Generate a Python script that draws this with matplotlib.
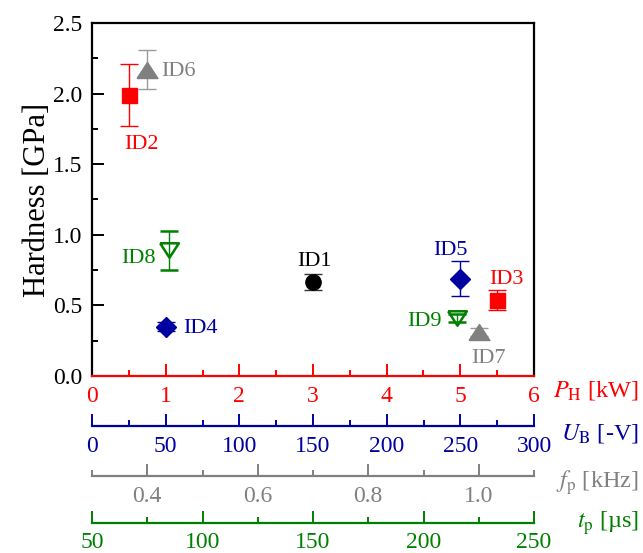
import matplotlib
matplotlib.use("Agg")
import matplotlib.pyplot as plt
from matplotlib.ticker import MultipleLocator, FixedLocator, FormatStrFormatter

plt.rcParams['font.family'] = ['Liberation Serif', 'DejaVu Serif']
plt.rcParams['mathtext.fontset'] = 'stix'

# ---- data ----
# red series: heater power P_H [kW]
ph_ids = ["ID2", "ID3"]
ph_x = [0.5, 5.5]
ph_y = [1.99, 0.54]
ph_err = [0.22, 0.07]
# black reference point (plotted on P_H axis)
ref_ids = ["ID1"]
ref_x = [3.0]
ref_y = [0.665]
ref_err = [0.055]
# blue series: bias voltage U_B [-V]
ub_ids = ["ID4", "ID5"]
ub_x = [50, 250]
ub_y = [0.35, 0.69]
ub_err = [0.03, 0.125]
# gray series: pulse frequency f_p [kHz]
fp_ids = ["ID6", "ID7"]
fp_x = [0.4, 1.0]
fp_y = [2.17, 0.31]
fp_err = [0.14, 0.03]
# green series: pulse time t_p [us]
tp_ids = ["ID8", "ID9"]
tp_x = [85, 215]
tp_y = [0.89, 0.41]
tp_err = [0.14, 0.03]

RED = '#FF0000'
BLUE = '#0000A0'
GRAY = '#808080'
GREEN = '#008000'

fig = plt.figure(figsize=(6.43, 5.53), dpi=100)
ax = fig.add_axes([92/643, 1-376/553, (534-92)/643, (376-23)/553])

FS = 17      # tick labels
LFS = 16     # point labels
SPW = 1.6
MAJ = 8.6
MIN = 4.3

tri_up = [(-1.3, -1), (1.3, -1), (0, 1), (-1.3, -1)]
tri_dn = [(-1.3, 1), (1.3, 1), (0, -1), (-1.3, 1)]

# main axes
ax.set_xlim(0, 6)
ax.set_ylim(0, 2.5)
ax.yaxis.set_major_locator(MultipleLocator(0.5))
ax.yaxis.set_minor_locator(MultipleLocator(0.25))
ax.yaxis.set_major_formatter(FormatStrFormatter('%.1f'))
ax.xaxis.set_major_locator(MultipleLocator(1))
ax.xaxis.set_minor_locator(MultipleLocator(0.5))
ax.tick_params(axis='y', which='both', direction='in', left=True, right=False,
               labelsize=FS, pad=7, width=1.4)
ax.tick_params(axis='y', which='major', length=MAJ)
ax.tick_params(axis='y', which='minor', length=MIN)
ax.tick_params(axis='x', which='both', direction='in', bottom=True, top=False,
               colors=RED, labelsize=FS, pad=7, width=1.4)
ax.tick_params(axis='x', which='major', length=MAJ)
ax.tick_params(axis='x', which='minor', length=MIN)
for s in ['left', 'right', 'top']:
    ax.spines[s].set_linewidth(SPW)
    ax.spines[s].set_color('black')
ax.spines['bottom'].set_color(RED)
ax.spines['bottom'].set_linewidth(SPW)
ax.set_ylabel('Hardness [GPa]', fontsize=22, labelpad=1)


def make_twin(color, offset, lim, major, minor):
    t = ax.twiny()
    t.set_xlim(*lim)
    t.xaxis.set_ticks_position('bottom')
    t.xaxis.set_label_position('bottom')
    t.spines['bottom'].set_position(('outward', offset))
    for s in ['left', 'right', 'top']:
        t.spines[s].set_visible(False)
    t.spines['bottom'].set_color(color)
    t.spines['bottom'].set_linewidth(SPW)
    t.xaxis.set_major_locator(major)
    t.xaxis.set_minor_locator(minor)
    t.tick_params(axis='x', which='both', direction='in', colors=color,
                  labelsize=FS, pad=7, width=1.4)
    t.tick_params(axis='x', which='major', length=MAJ)
    t.tick_params(axis='x', which='minor', length=MIN)
    return t


ax_ub = make_twin(BLUE, 36, (0, 300), MultipleLocator(50), MultipleLocator(25))
ax_fp = make_twin(GRAY, 72, (0.3, 1.1), FixedLocator([0.4, 0.6, 0.8, 1.0]),
                  FixedLocator([0.3, 0.5, 0.7, 0.9, 1.1]))
ax_fp.xaxis.set_major_formatter(FormatStrFormatter('%.1f'))
ax_tp = make_twin(GREEN, 105.5, (50, 250), MultipleLocator(50), MultipleLocator(25))

eb = dict(elinewidth=1.0, capsize=6.5, capthick=1.0, linestyle='none')

ax.errorbar(ph_x, ph_y, yerr=ph_err, marker='s', ms=10.8, color=RED, mec=RED, **eb)
ax.errorbar(ref_x, ref_y, yerr=ref_err, marker='o', ms=11, color='black', ecolor='#333333', **eb)
ax_ub.errorbar(ub_x, ub_y, yerr=ub_err, marker='D', ms=10.3, color=BLUE, **eb)
ax_fp.errorbar(fp_x, fp_y, yerr=fp_err, marker=tri_up, ms=15, color=GRAY, ecolor='#9a9a9a', **eb)
ax_tp.errorbar(tp_x, tp_y, yerr=tp_err, marker=tri_dn, ms=13.5, mfc='none', mec=GREEN,
               mew=1.8, color=GREEN, **eb)

# point labels, offsets in pixels from each point
def label(a, ids, xs, ys, color, offs):
    for i, x, y, (dx, dy, ha) in zip(ids, xs, ys, offs):
        a.annotate(i, (x, y), xytext=(dx, dy), textcoords='offset pixels',
                   ha=ha, va='baseline', color=color, fontsize=LFS)

label(ax, ph_ids, ph_x, ph_y, RED, [(12.5, -54, 'center'), (9, 16, 'center')])
label(ax, ref_ids, ref_x, ref_y, 'black', [(1, 16, 'center')])
label(ax_ub, ub_ids, ub_x, ub_y, BLUE, [(18, -6, 'left'), (-10, 24, 'center')])
label(ax_fp, fp_ids, fp_x, fp_y, GRAY, [(14, -6.5, 'left'), (10, -31, 'center')])
label(ax_tp, tp_ids, tp_x, tp_y, GREEN, [(-14, -13, 'right'), (-15, -8, 'right')])

# axis titles at the right end of each x axis
XR = 639 / 643
TFS = 17.5
fig.text(XR, 1 - 396.5 / 553, r'$P_\mathrm{H}$ [kW]', color=RED, fontsize=TFS, ha='right', va='baseline')
fig.text(XR, 1 - 439.5 / 553, r'$U_\mathrm{B}$ [-V]', color=BLUE, fontsize=TFS, ha='right', va='baseline')
fig.text(XR, 1 - 488 / 553, r'$f_\mathrm{p}$ [kHz]', color=GRAY, fontsize=TFS, ha='right', va='baseline')
fig.text(XR, 1 - 528 / 553, r'$t_\mathrm{p}$ [µs]', color=GREEN, fontsize=TFS, ha='right', va='baseline')

fig.savefig('out.png', dpi=100)
